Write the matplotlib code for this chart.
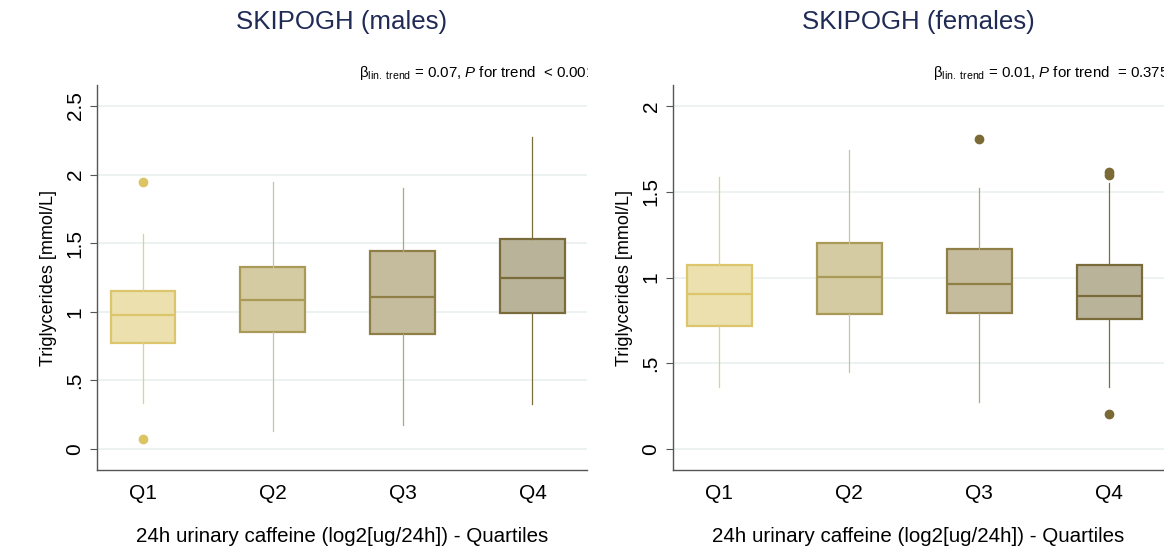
import matplotlib
matplotlib.use("Agg")
import matplotlib.pyplot as plt
from matplotlib.patches import Rectangle

plt.rcParams['font.family'] = ['Liberation Sans', 'DejaVu Sans']
plt.rcParams['mathtext.fontset'] = 'custom'
plt.rcParams['mathtext.rm'] = 'Liberation Sans'
plt.rcParams['mathtext.it'] = 'Liberation Sans:italic'

# DATA
quartiles = ['Q1', 'Q2', 'Q3', 'Q4']

male_whislo = [0.333, 0.134, 0.177, 0.330]
male_q1 = [0.775, 0.855, 0.840, 0.991]
male_med = [0.977, 1.088, 1.110, 1.244]
male_q3 = [1.154, 1.327, 1.443, 1.528]
male_whishi = [1.567, 1.944, 1.900, 2.272]
male_fliers = [[0.075, 1.944], [], [], []]

female_whislo = [0.360, 0.447, 0.272, 0.360]
female_q1 = [0.715, 0.785, 0.793, 0.756]
female_med = [0.902, 1.001, 0.962, 0.894]
female_q3 = [1.073, 1.203, 1.166, 1.073]
female_whishi = [1.586, 1.745, 1.520, 1.553]
female_fliers = [[], [], [1.806], [1.600, 1.612, 0.204]]

male_yticks = [0, 0.5, 1, 1.5, 2, 2.5]
male_yticklabels = ['0', '.5', '1', '1.5', '2', '2.5']
female_yticks = [0, 0.5, 1, 1.5, 2]
female_yticklabels = ['0', '.5', '1', '1.5', '2']

male_title = 'SKIPOGH (males)'
female_title = 'SKIPOGH (females)'
male_trend = r'β$_{\mathrm{lin.\ trend}}$ = 0.07, $\mathit{P}$ for trend  < 0.001'
female_trend = r'β$_{\mathrm{lin.\ trend}}$ = 0.01, $\mathit{P}$ for trend  = 0.375'
xlabel = '24h urinary caffeine (log2[ug/24h]) - Quartiles'
ylabel = 'Triglycerides [mmol/L]'

# styles
fills = ['#ebe0ae', '#d4cba2', '#c4bc9d', '#b9b399']
edges = ['#dcc56c', '#a99a58', '#8f7f46', '#7a6c3a']
whisk = ['#e3cf88', '#cbc2a2', '#b3a679', '#7c6d3c']
flier_cols = ['#dcc462', '#a99a58', '#7b6a35', '#7b6a35']
title_col = '#1f2b55'
grid_col = '#eaf1f1'
spine_col = '#555555'

W, H = 1164, 551
fig = plt.figure(figsize=(W / 100, H / 100), dpi=100)


def panel(rect, whislo, q1, med, q3, whishi, fliers, yticks, yticklabels, ylim):
    ax = fig.add_axes(rect)
    stats = []
    for i in range(len(quartiles)):
        stats.append(dict(whislo=whislo[i], q1=q1[i], med=med[i], q3=q3[i],
                          whishi=whishi[i], fliers=fliers[i]))
    pos = list(range(1, len(quartiles) + 1))
    bp = ax.bxp(stats, positions=pos, widths=0.5, patch_artist=True,
                showcaps=False, zorder=3)
    for i in range(len(quartiles)):
        bp['boxes'][i].set(facecolor=fills[i], edgecolor=edges[i], linewidth=1.6)
        bp['medians'][i].set(color=edges[i], linewidth=1.6)
        for w in bp['whiskers'][2 * i:2 * i + 2]:
            w.set(color=whisk[i], linewidth=0.9)
        bp['fliers'][i].set(marker='o', markersize=6, markerfacecolor=flier_cols[i],
                            markeredgecolor=flier_cols[i])
    ax.set_xlim(0.646, 4.42)
    ax.set_ylim(*ylim)
    ax.set_xticks(pos)
    ax.set_xticklabels(quartiles, fontsize=15)
    ax.set_yticks(yticks)
    ax.set_yticklabels(yticklabels, fontsize=15, rotation=90, va='center')
    ax.tick_params(axis='x', length=0, pad=10)
    ax.tick_params(axis='y', length=5, width=0.8, color=spine_col, pad=4)
    ax.yaxis.grid(True, color=grid_col, linewidth=1.3, zorder=0)
    ax.set_axisbelow(True)
    for s in ['top', 'right']:
        ax.spines[s].set_visible(False)
    for s in ['left', 'bottom']:
        ax.spines[s].set_color(spine_col)
        ax.spines[s].set_linewidth(1.0)
    ax.set_xlabel(xlabel, fontsize=14.8, labelpad=17)
    ax.set_ylabel(ylabel, fontsize=13, labelpad=6)
    return ax


ax1 = panel([97 / W, 1 - 470 / H, 490 / W, 385 / H],
            male_whislo, male_q1, male_med, male_q3, male_whishi, male_fliers,
            male_yticks, male_yticklabels, (-0.153, 2.653))
ax2 = panel([673 / W, 1 - 470 / H, 491 / W, 385 / H],
            female_whislo, female_q1, female_med, female_q3, female_whishi, female_fliers,
            female_yticks, female_yticklabels, (-0.122, 2.122))

fig.text((97 + 587) / 2 / W, 1 - 22 / H, male_title, fontsize=18.6, color=title_col,
         ha='center', va='center')
fig.text((673 + 1164) / 2 / W, 1 - 22 / H, female_title, fontsize=18.6, color=title_col,
         ha='center', va='center')

t1 = fig.text(359 / W, 1 - 73 / H, male_trend, fontsize=10.8, ha='left', va='center')
clip = Rectangle((0, 0), 588 / W, 1, transform=fig.transFigure, visible=False)
fig.add_artist(clip)
t1.set_clip_path(clip)
fig.text(933 / W, 1 - 73 / H, female_trend, fontsize=10.8, ha='left', va='center')

fig.savefig('out.png', dpi=100)
